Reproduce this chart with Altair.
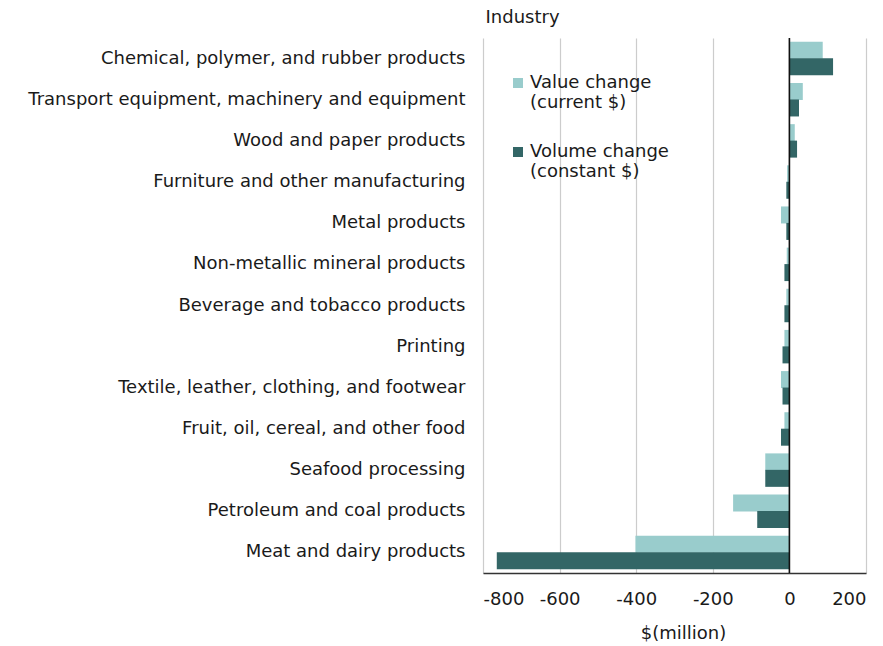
import altair as alt
import pandas as pd

# Industries, top to bottom
industries = [
    "Chemical, polymer, and rubber products",
    "Transport equipment, machinery and equipment",
    "Wood and paper products",
    "Furniture and other manufacturing",
    "Metal products",
    "Non-metallic mineral products",
    "Beverage and tobacco products",
    "Printing",
    "Textile, leather, clothing, and footwear",
    "Fruit, oil, cereal, and other food",
    "Seafood processing",
    "Petroleum and coal products",
    "Meat and dairy products",
]

# $ million
value_change = [87, 35, 14, -6, -22, -7, -8, -13, -22, -13, -63, -147, -402]
volume_change = [114, 25, 20, -8, -8, -13, -13, -18, -18, -22, -63, -84, -764]

series = ["Value change (current $)", "Volume change (constant $)"]
colors = ["#99CCCC", "#336666"]

rows = []
for ind, v1, v2 in zip(industries, value_change, volume_change):
    rows.append({"Industry": ind, "Series": series[0], "Amount": v1})
    rows.append({"Industry": ind, "Series": series[1], "Amount": v2})
df = pd.DataFrame(rows)

FONT = "DejaVu Sans"
FS = 18
TXT = "#1a1a1a"

bars = alt.Chart(df).mark_bar(size=17).encode(
    x=alt.X(
        "Amount:Q",
        scale=alt.Scale(domain=[-800, 200], nice=False),
        axis=alt.Axis(
            title="$(million)",
            values=[-800, -600, -400, -200, 0, 200],
            labelExpr="replace(format(datum.value, 'd'), '−', '-')",
            grid=True,
            gridColor="#cccccc",
            gridWidth=1.2,
            domainColor="#333333",
            domainWidth=1.5,
            ticks=False,
            labelPadding=17,
            titlePadding=16,
            titleX=200,
        ),
    ),
    y=alt.Y(
        "Industry:N",
        sort=industries,
        scale=alt.Scale(paddingInner=0.2, paddingOuter=0.1),
        axis=alt.Axis(
            title="Industry",
            titleAngle=0,
            titleAlign="left",
            titleBaseline="bottom",
            titleX=2,
            titleY=-12,
            domain=False,
            ticks=False,
            labelPadding=18,
            labelLimit=500,
        ),
    ),
    yOffset=alt.YOffset("Series:N", sort=series),
    color=alt.Color(
        "Series:N",
        sort=series,
        scale=alt.Scale(domain=series, range=colors),
        legend=alt.Legend(
            title=None,
            orient="none",
            legendX=26,
            legendY=36,
            symbolType="square",
            symbolSize=100,
            symbolStrokeWidth=0,
            rowPadding=31,
            labelLimit=300,
            labelBaseline="middle",
            labelOffset=3,
            labelExpr="[split(datum.label, ' (')[0], '(' + split(datum.label, ' (')[1]]",
            labelFontSize=FS,
            labelFont=FONT,
            labelColor=TXT,
        ),
    ),
)

zero = alt.Chart(pd.DataFrame({"x": [0]})).mark_rule(color="#111111", strokeWidth=1.6).encode(x="x:Q")

chart = (
    alt.layer(bars, zero)
    .properties(
        width=383,
        height=535,
        autosize=alt.AutoSizeParams(type="none"),
        padding={"left": 483, "top": 38, "right": 17, "bottom": 73},
    )
    .configure_view(stroke=None)
    .configure_axis(
        labelFont=FONT,
        titleFont=FONT,
        labelFontSize=FS,
        titleFontSize=FS,
        labelColor=TXT,
        titleColor=TXT,
        titleFontWeight="normal",
    )
)

chart.save("out.html", embed_options={"renderer": "svg", "actions": False})
